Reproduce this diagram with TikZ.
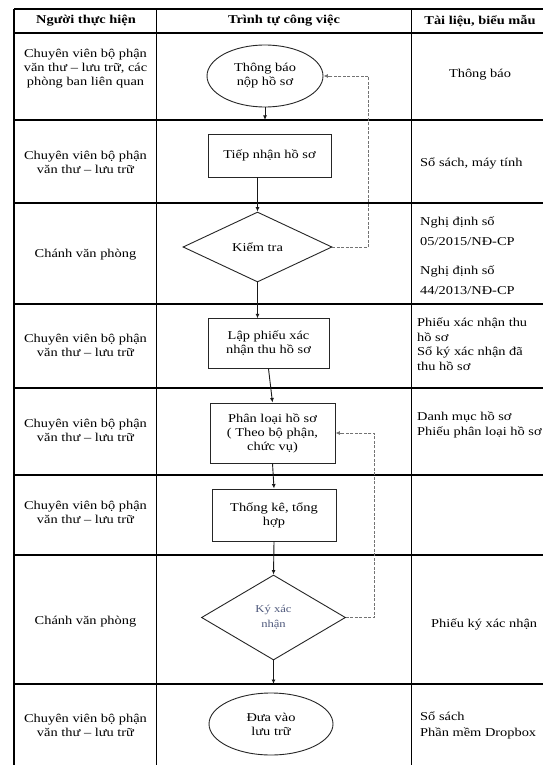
\documentclass[tikz,border=0pt]{standalone}
\usepackage{fontspec}
\setmainfont{Liberation Serif}[FakeStretch=1.2]
\usetikzlibrary{shapes.geometric,arrows.meta}
\definecolor{kcol}{RGB}{80,90,125}
\tikzset{
  tbl/.style={line width=1.4pt, draw=black},
  txt/.style={font=\fontsize{12}{14}\selectfont, align=center, inner sep=0pt},
  htxt/.style={font=\bfseries\fontsize{12}{14}\selectfont, align=center, inner sep=0pt},
  ltxt/.style={font=\fontsize{12}{14.5}\selectfont, align=left, anchor=west, inner sep=0pt},
  shp/.style={draw=black!85, line width=0.9pt, font=\fontsize{12}{14}\selectfont, align=center, inner sep=0pt},
  boxnode/.style={shp, rectangle},
  ellnode/.style={shp, ellipse},
  dianode/.style={shp, diamond},
  arr/.style={-{Latex[length=4.5pt,width=4pt]}, line width=0.9pt, draw=black!90},
  darr/.style={-{Latex[length=4.5pt,width=4pt]}, dash pattern=on 3pt off 1.5pt, draw=black!55, line width=0.9pt},
}
\begin{document}
\begin{tikzpicture}[x=1pt,y=-1pt]
\useasboundingbox[fill=white] (0,0) rectangle (543,765);
% table grid
\foreach \yy in {9,33,120,203,304,388,475,555,684}{
  \draw[tbl] (14,\yy) -- (543,\yy);
}
\foreach \xx in {14,156.5,411.5}{
  \draw[tbl] (\xx,9) -- (\xx,765);
}
% headers
\node[htxt] (h1) at (86,21) {Người thực hiện};
\node[htxt] (h2) at (284,21) {Trình tự công việc};
\node[htxt] (h3) at (480,21) {Tài liệu, biểu mẫu};
% left column
\node[txt] (p1) at (85.5,69) {Chuyên viên bộ phận\\văn thư -- lưu trữ, các\\phòng ban liên quan};
\node[txt] (p2) at (85.5,162) {Chuyên viên bộ phận\\văn thư -- lưu trữ};
\node[txt] (p3) at (85.5,255) {Chánh văn phòng};
\node[txt] (p4) at (85.5,345) {Chuyên viên bộ phận\\văn thư -- lưu trữ};
\node[txt] (p5) at (85.5,430) {Chuyên viên bộ phận\\văn thư -- lưu trữ};
\node[txt] (p6) at (85.5,512) {Chuyên viên bộ phận\\văn thư -- lưu trữ};
\node[txt] (p7) at (85.5,622) {Chánh văn phòng};
\node[txt] (p8) at (85.5,725) {Chuyên viên bộ phận\\văn thư -- lưu trữ};
% right column
\node[txt] (d1t) at (480,75) {Thông báo};
\node[ltxt] (d2t) at (420,163) {Sổ sách, máy tính};
\node[ltxt, font=\fontsize{12}{20}\selectfont] (d3a) at (420,231) {Nghị định số\\05/2015/NĐ-CP};
\node[ltxt, font=\fontsize{12}{20}\selectfont] (d3b) at (420,280) {Nghị định số\\44/2013/NĐ-CP};
\node[ltxt] (d4t) at (417,344) {Phiếu xác nhận thu\\hồ sơ\\Sổ ký xác nhận đã\\thu hồ sơ};
\node[ltxt] (d5t) at (417,425) {Danh mục hồ sơ\\Phiếu phân loại hồ sơ};
\node[ltxt] (d7t) at (431,624) {Phiếu ký xác nhận};
\node[ltxt, font=\fontsize{12}{16}\selectfont] (d8t) at (420,725) {Sổ sách\\Phần mềm Dropbox};
% flow shapes
\node[ellnode, minimum width=116, minimum height=62] (e1) at (265,76) {Thông báo\\nộp hồ sơ};
\node[boxnode, minimum width=123, minimum height=43] (b2) at (269.5,155.5) {Tiếp nhận hồ sơ};
\node[dianode, minimum width=149, minimum height=70] (k1) at (257.5,247) {Kiểm tra};
\node[boxnode, minimum width=121, minimum height=49.5] (b4) at (268.5,343.5) {Lập phiếu xác\\nhận thu hồ sơ};
\node[boxnode, minimum width=125, minimum height=60] (b5) at (272.5,433) {Phân loại hồ sơ\\( Theo bộ phận,\\chức vụ)};
\node[boxnode, minimum width=124, minimum height=52] (b6) at (274,515) {Thống kê, tổng\\hợp};
\node[dianode, minimum width=144, minimum height=85, text=kcol, font=\fontsize{10.5}{15}\selectfont] (k2) at (273.5,617.5) {Ký xác\\nhận};
\node[ellnode, minimum width=124, minimum height=62] (e2) at (271,724) {Đưa vào\\lưu trữ};
% connectors
\coordinate (r1) at (265,120);
\coordinate (r7) at (273.5,684);
\draw[arr] (e1.south) -- (r1);
\draw[arr] (b2.south -| k1.north) -- (k1.north);
\draw[arr] (k1.south) -- (k1.south |- b4.north);
\draw[arr] (b4.south) -- (b5.north);
\draw[arr] (b5.south) -- (b6.north);
\draw[arr] (b6.south) -- (k2.north);
\draw[arr] (k2.south) -- (r7);
\draw[darr] (k1.east) -- ++(36,0) |- (e1.east);
\draw[darr] (k2.east) -- ++(28.5,0) |- (b5.east);
\end{tikzpicture}
\end{document}
